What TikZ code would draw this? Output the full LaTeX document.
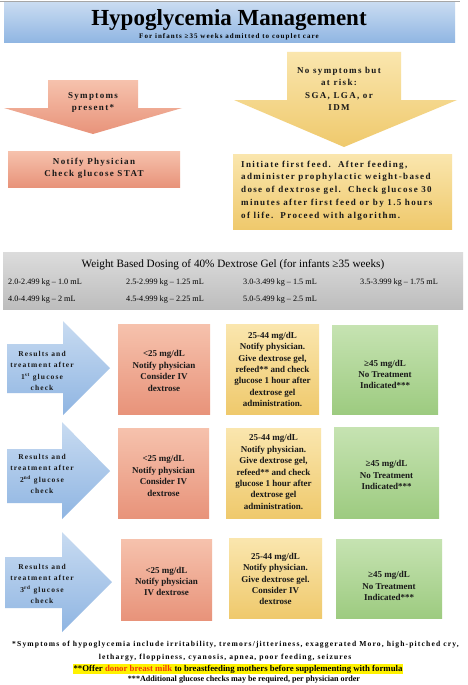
\documentclass[tikz,border=0pt]{standalone}
\usepackage{fontspec}
\setmainfont{Liberation Serif}
\newfontfamily\spaced[LetterSpace=15]{Liberation Serif}
\definecolor{blueT}{HTML}{C8DBF1}
\definecolor{blueB}{HTML}{8FB5E2}
\definecolor{salT}{HTML}{F6C2AD}
\definecolor{salB}{HTML}{E8937A}
\definecolor{yelT}{HTML}{FAE6AE}
\definecolor{yelB}{HTML}{EFC96C}
\definecolor{grnT}{HTML}{C6E3B2}
\definecolor{grnB}{HTML}{9DCB80}
\definecolor{gryT}{HTML}{DCDCDC}
\definecolor{gryB}{HTML}{BDBDBD}
\definecolor{donor}{HTML}{F03A0C}
\tikzset{
  bluefill/.style={top color=blueT, bottom color=blueB, draw=none},
  salfill/.style={top color=salT, bottom color=salB, draw=none},
  yelfill/.style={top color=yelT, bottom color=yelB, draw=none},
  grnfill/.style={top color=grnT, bottom color=grnB, draw=none},
  gryfill/.style={top color=gryT, bottom color=gryB, draw=none},
  arrtxt/.style={font=\spaced\bfseries\fontsize{9}{12}\selectfont, align=center, inner sep=0pt, text=black!90},
  rowarr/.style={font=\spaced\bfseries\fontsize{7.5}{11.2}\selectfont, align=center, inner sep=0pt, text=black!90},
  boxtxt/.style={font=\bfseries\fontsize{9}{11.4}\selectfont, align=center, inner sep=0pt, text=black!90},
  dose/.style={font=\fontsize{8.2}{9}\selectfont, anchor=base west, inner sep=0pt},
  foot/.style={font=\spaced\bfseries\fontsize{7.6}{8}\selectfont, anchor=base, inner sep=0pt},
  footb/.style={font=\bfseries\fontsize{8.1}{9}\selectfont, anchor=base, inner sep=0pt}
}
\begin{document}
\begin{tikzpicture}[x=1pt,y=-1pt]
\useasboundingbox (0,0) rectangle (468,685);
\fill[white] (0,0) rectangle (468,685);
\draw[gray!70, line width=0.6pt] (0,1.5) -- (460,1.5);
% title
\path[bluefill] (4,3) rectangle (455,43);
\node[font=\bfseries\fontsize{23}{23}\selectfont, anchor=base, inner sep=0pt] (title) at (229,26) {Hypoglycemia Management};
\node[font=\spaced\bfseries\fontsize{7}{7}\selectfont, anchor=base, inner sep=0pt] (sub) at (229,38) {For infants ≥35 weeks admitted to couplet care};
% left branch
\path[salfill] (48,80) -- (138,80) -- (138,108) -- (182,108) -- (93,134) -- (4,108) -- (48,108) -- cycle;
\node[arrtxt] (symp) at (93,102) {Symptoms\\present*};
\path[salfill] (8,151) rectangle (180,187);
\node[arrtxt] (stat) at (94,168) {Notify Physician\\Check glucose STAT};
% right branch
\path[yelfill] (287,52) -- (401,52) -- (401,100) -- (457,100) -- (344,147) -- (234,100) -- (287,100) -- cycle;
\node[arrtxt, font=\spaced\bfseries\fontsize{9}{11.7}\selectfont] (risk) at (339,89) {No symptoms but\\at risk:\\[2pt]SGA, LGA, or\\IDM};
\path[yelfill] (233,154) rectangle (452,229);
\node[arrtxt, align=left, anchor=west, font=\spaced\bfseries\fontsize{9}{12.75}\selectfont] (feed) at (241,190.5) {Initiate first feed.\ \ After feeding,\\administer prophylactic weight-based\\dose of dextrose gel.\ \ Check glucose 30\\minutes after first feed or by 1.5 hours\\of life.\ \ Proceed with algorithm.};
% dosing table
\path[gryfill] (3,252) rectangle (463,309);
\node[font=\fontsize{11.2}{12}\selectfont, anchor=base, inner sep=0pt] (dosehead) at (233,267) {Weight Based Dosing of 40\% Dextrose Gel (for infants ≥35 weeks)};
\node[dose] (d1) at (8,284) {2.0-2.499 kg – 1.0 mL};
\node[dose] (d2) at (126,284) {2.5-2.999 kg – 1.25 mL};
\node[dose] (d3) at (243,284) {3.0-3.499 kg – 1.5 mL};
\node[dose] (d4) at (360,284) {3.5-3.999 kg – 1.75 mL};
\node[dose] (d5) at (8,301) {4.0-4.499 kg – 2 mL};
\node[dose] (d6) at (126,301) {4.5-4.999 kg – 2.25 mL};
\node[dose] (d7) at (243,301) {5.0-5.499 kg – 2.5 mL};
% row 1
\path[bluefill] (7,344) -- (63,344) -- (63,321) -- (110,368) -- (63,415) -- (63,393) -- (7,393) -- cycle;
\node[rowarr] (r1) at (42,371) {Results and\\treatment after\\1\textsuperscript{st} glucose\\check};
\path[salfill] (118,324) rectangle (210,414);
\node[boxtxt] (a1) at (164,371) {<25 mg/dL\\Notify physician\\Consider IV\\dextrose};
\path[yelfill] (226,324) rectangle (319,414);
\node[boxtxt] (b1) at (272.5,369.5) {25-44 mg/dL\\Notify physician.\\Give dextrose gel,\\refeed** and check\\glucose 1 hour after\\dextrose gel\\administration.};
\path[grnfill] (332,325) rectangle (438,414);
\node[boxtxt] (c1) at (385,374.5) {≥45 mg/dL\\No Treatment\\Indicated***};
% row 2
\path[bluefill] (7,449) -- (62,449) -- (62,422) -- (110,471) -- (62,519) -- (62,503) -- (7,503) -- cycle;
\node[rowarr] (r2) at (42,474) {Results and\\treatment after\\2\textsuperscript{nd} glucose\\check};
\path[salfill] (118,428) rectangle (209,518);
\node[boxtxt] (a2) at (163.5,476) {<25 mg/dL\\Notify physician\\Consider IV\\dextrose};
\path[yelfill] (226,428) rectangle (321,518);
\node[boxtxt] (b2) at (273.5,472) {25-44 mg/dL\\Notify physician.\\Give dextrose gel,\\refeed** and check\\glucose 1 hour after\\dextrose gel\\administration.};
\path[grnfill] (334,427) rectangle (439,518);
\node[boxtxt] (c2) at (386.5,475) {≥45 mg/dL\\No Treatment\\Indicated***};
% row 3
\path[bluefill] (5,557) -- (62,557) -- (62,532) -- (112,582) -- (62,632) -- (62,608) -- (5,608) -- cycle;
\node[rowarr] (r3) at (42,584) {Results and\\treatment after\\3\textsuperscript{rd} glucose\\check};
\path[salfill] (121,539) rectangle (212,620);
\node[boxtxt] (a3) at (166.5,581.5) {<25 mg/dL\\Notify physician\\IV dextrose};
\path[yelfill] (229,538) rectangle (322,618);
\node[boxtxt] (b3) at (275.5,579) {25-44 mg/dL\\Notify physician.\\Give dextrose gel.\\Consider IV\\dextrose};
\path[grnfill] (336,539) rectangle (442,618);
\node[boxtxt] (c3) at (389,586) {≥45 mg/dL\\No Treatment\\Indicated***};
% footnotes
\node[foot] (f1) at (235.5,646) {*Symptoms of hypoglycemia include irritability, tremors/jitteriness, exaggerated Moro, high-pitched cry,};
\node[foot] (f2) at (225,659) {lethargy, floppiness, cyanosis, apnea, poor feeding, seizures};
\node[footb, font=\bfseries\fontsize{8.8}{9}\selectfont, fill=yellow, inner xsep=0.5pt, inner ysep=1pt] (f3) at (238,671) {**Offer \textcolor{donor}{donor breast milk} to breastfeeding mothers before supplementing with formula};
\node[footb] (f4) at (244,681.5) {***Additional glucose checks may be required, per physician order};
\end{tikzpicture}
\end{document}
